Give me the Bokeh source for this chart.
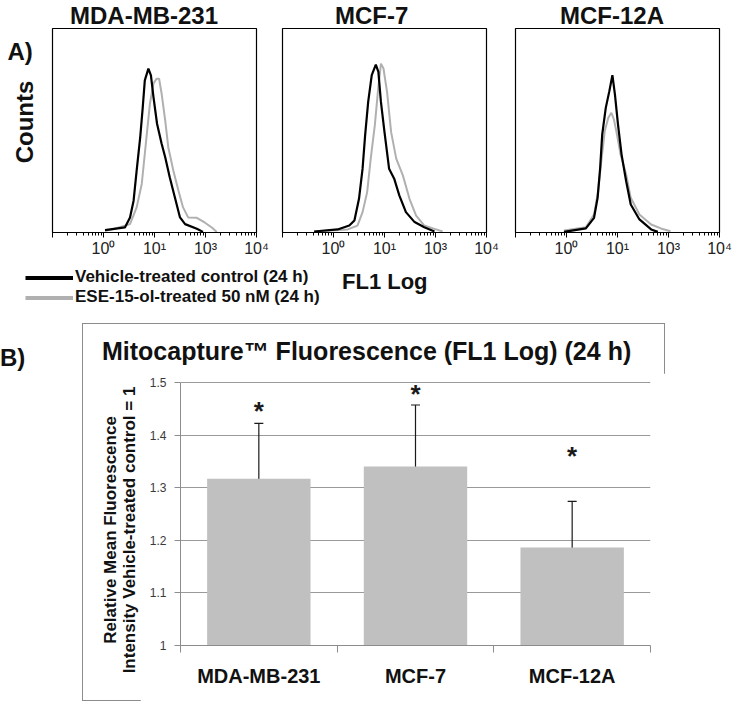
import math
from bokeh.plotting import figure
from bokeh.models import (Range1d, FixedTicker, Legend, LegendItem,
                          ColumnDataSource, Whisker, TeeHead, Div)
from bokeh.layouts import row, column
from bokeh.core.properties import value
from bokeh.embed import file_html
from bokeh.resources import INLINE

FONT = "Liberation Sans"
BLACK = "#000000"
GREY = "#b0b0b0"
TXT = "#111111"

# ---------------- data ----------------
panel_names = ["MDA-MB-231", "MCF-7", "MCF-12A"]
series_names = ["Vehicle-treated control (24 h)", "ESE-15-ol-treated 50 nM (24 h)"]
decade_ticks = [1, 2, 3, 4]
decade_tick_labels = ["10\u2070", "10\u00b9", "10\u00b3", "10\u2074"]

# histogram curves: position on FL1 log axis (decades) and counts (% of full scale)
mda_ctrl_fl1 = [1.03, 1.42, 1.52, 1.59, 1.65, 1.72, 1.77, 1.81, 1.88, 1.93, 1.98, 2.05, 2.14, 2.21, 2.30, 2.40, 2.50, 2.60, 2.83, 2.95]
mda_ctrl_cnt = [1.2, 2.5, 7.4, 15.6, 30.3, 46.7, 61.5, 74.6, 80.3, 77.0, 66.4, 53.3, 43.5, 36.9, 27.0, 17.2, 7.4, 4.1, 1.8, 0.3]
mda_trt_fl1 = [1.03, 1.20, 1.52, 1.65, 1.75, 1.83, 1.91, 1.98, 2.04, 2.09, 2.14, 2.21, 2.27, 2.37, 2.47, 2.56, 2.66, 2.83, 2.99, 3.13, 3.22]
mda_trt_cnt = [0.8, 1.7, 4.1, 12.3, 23.8, 43.5, 63.1, 73.0, 75.4, 75.4, 68.0, 54.9, 41.8, 30.3, 20.5, 12.3, 7.4, 7.2, 4.8, 2.3, 0.3]

mcf7_ctrl_fl1 = [0.62, 1.08, 1.31, 1.41, 1.50, 1.57, 1.62, 1.68, 1.75, 1.83, 1.88, 1.93, 2.00, 2.09, 2.19, 2.29, 2.42, 2.59, 2.78, 2.98]
mcf7_ctrl_cnt = [0.5, 1.5, 3.4, 5.9, 16.5, 31.3, 47.6, 64.0, 77.1, 82.3, 78.7, 64.0, 49.2, 31.3, 26.4, 18.2, 10.0, 5.1, 2.6, 0.5]
mcf7_trt_fl1 = [0.62, 1.28, 1.47, 1.57, 1.66, 1.73, 1.81, 1.87, 1.93, 1.98, 2.05, 2.13, 2.23, 2.36, 2.49, 2.62, 2.78, 2.98, 3.14]
mcf7_trt_cnt = [0.5, 1.5, 3.4, 10.0, 19.8, 36.2, 52.5, 68.9, 82.8, 80.4, 68.9, 49.2, 36.2, 28.0, 16.5, 8.3, 3.4, 1.8, 0.5]

mcf12a_ctrl_fl1 = [0.95, 1.38, 1.54, 1.61, 1.66, 1.70, 1.77, 1.84, 1.90, 1.95, 2.01, 2.08, 2.17, 2.26, 2.43, 2.66, 2.79]
mcf12a_ctrl_cnt = [0.3, 2.0, 7.2, 17.0, 31.7, 48.0, 61.1, 69.3, 77.1, 67.6, 52.9, 38.2, 25.1, 13.7, 6.4, 1.5, 0.3]
mcf12a_trt_fl1 = [0.95, 1.38, 1.54, 1.62, 1.69, 1.75, 1.82, 1.88, 1.93, 1.99, 2.06, 2.17, 2.26, 2.43, 2.66, 2.85, 3.04]
mcf12a_trt_cnt = [1.0, 2.6, 8.8, 20.3, 36.6, 49.7, 56.2, 58.7, 55.4, 48.0, 38.2, 28.4, 17.0, 8.8, 3.9, 2.0, 0.6]

# bar chart
categories = ["MDA-MB-231", "MCF-7", "MCF-12A"]
rel_mean = [1.317, 1.340, 1.186]
rel_err = [0.105, 0.117, 0.088]
star_level = [1.446, 1.478, 1.360]
y_ticks = [1.0, 1.1, 1.2, 1.3, 1.4, 1.5]
y_tick_labels = ["1", "1.1", "1.2", "1.3", "1.4", "1.5"]
bar_title = "Mitocapture\u2122 Fluorescence (FL1 Log) (24 h)"
bar_ylabel_lines = ["Relative Mean Fluorescence", "Intensity Vehicle-treated control = 1"]


def text_div(w, h, size, spans, line_height=None):
    """Div holding absolutely positioned bold text blocks: (left, top, html, extra_css)."""
    inner = "".join(
        f'<span style="position:absolute;left:{l}px;top:{t}px;white-space:nowrap;{css}">{txt}</span>'
        for l, t, txt, css in spans)
    html = f'<div style="position:relative;width:{w}px;height:{h}px;overflow:visible;">{inner}</div>'
    lh = line_height if line_height is not None else size
    return Div(text=html, width=w, height=h, margin=0,
               styles={"font-family": FONT, "font-weight": "bold", "font-size": f"{size}px",
                       "line-height": f"{lh}px", "color": TXT})


# ---------------- panel titles strip ----------------
title_lefts = [70, 335, 560]
title_div = text_div(738, 27, 24, [(xl, 4, n, "") for xl, n in zip(title_lefts, panel_names)])

# ---------------- left strip: "A)" and "Counts" ----------------
side_div = text_div(51, 235, 24, [
    (7.5, 12.7, "A)", ""),
    (25, 95, "Counts", "transform:translate(-50%,-50%) rotate(-90deg);"),
])

# ---------------- histogram panels ----------------
curves = [
    (mda_ctrl_fl1, mda_ctrl_cnt, mda_trt_fl1, mda_trt_cnt),
    (mcf7_ctrl_fl1, mcf7_ctrl_cnt, mcf7_trt_fl1, mcf7_trt_cnt),
    (mcf12a_ctrl_fl1, mcf12a_ctrl_cnt, mcf12a_trt_fl1, mcf12a_trt_cnt),
]
fig_widths = [225, 232, 230]
borders_lr = [(1, 20), (6, 22), (7, 19)]

minor = [d + math.log10(k) for d in range(4) for k in range(2, 10)]

hist_figs = []
for i, (cx, cy, tx, ty) in enumerate(curves):
    bl, br = borders_lr[i]
    p = figure(width=fig_widths[i], height=235, x_range=Range1d(0, 4), y_range=Range1d(0, 100),
               output_backend="svg", toolbar_location=None, title=None,
               min_border_left=bl, min_border_right=br, min_border_top=1, min_border_bottom=30,
               y_axis_location=None)
    p.grid.visible = False
    p.outline_line_color = BLACK
    p.outline_line_width = 1.2
    p.line(tx, ty, line_color=GREY, line_width=2)
    p.line(cx, cy, line_color=BLACK, line_width=2.2)

    xa = p.xaxis[0]
    xa.ticker = FixedTicker(ticks=[0] + decade_ticks, minor_ticks=minor)
    overrides = {0: ""}
    for t, lab in zip(decade_ticks, decade_tick_labels):
        overrides[t] = lab
    xa.major_label_overrides = overrides
    xa.axis_line_color = BLACK
    xa.major_tick_line_color = BLACK
    xa.minor_tick_line_color = BLACK
    xa.major_tick_out = 5
    xa.major_tick_in = 0
    xa.minor_tick_out = 3
    xa.minor_tick_in = 0
    xa.major_label_standoff = 2
    xa.major_label_text_font = FONT
    xa.major_label_text_font_size = "16px"
    xa.major_label_text_color = "#222222"
    hist_figs.append(p)

# ---------------- legend strip ----------------
leg = figure(width=330, height=61, x_range=Range1d(0, 1), y_range=Range1d(0, 1),
             output_backend="svg", toolbar_location=None, title=None,
             min_border_left=0, min_border_right=0, min_border_top=0, min_border_bottom=0,
             x_axis_location=None, y_axis_location=None)
leg.grid.visible = False
leg.outline_line_color = None
r_ctrl = leg.line(x=[0.5], y=[0.5], line_color=BLACK, line_width=4)
r_trt = leg.line(x=[0.5], y=[0.5], line_color=GREY, line_width=4)
legend = Legend(items=[LegendItem(label=series_names[0], renderers=[r_ctrl]),
                       LegendItem(label=series_names[1], renderers=[r_trt])],
                location=(25, 16), orientation="vertical",
                label_text_font=FONT, label_text_font_size="17px", label_text_font_style="bold",
                label_text_color=TXT, glyph_width=48, glyph_height=19, label_height=19,
                label_standoff=2, spacing=0, padding=0, margin=0,
                border_line_color=None, background_fill_alpha=0)
leg.add_layout(legend)
fl1_div = text_div(408, 61, 22, [(12, 9.4, "FL1 Log", "")])

# ---------------- bar chart ----------------
cat_x = [i + 0.5 for i in range(len(categories))]
bar_src = ColumnDataSource(dict(
    x=cat_x, mean=rel_mean,
    upper=[m + e for m, e in zip(rel_mean, rel_err)],
    lower=[m - e for m, e in zip(rel_mean, rel_err)],
    star=star_level, mark=["*"] * len(categories)))

pb = figure(width=525, height=328, x_range=Range1d(0, 3), y_range=Range1d(1, 1.515),
            output_backend="svg", toolbar_location=None, title=None,
            min_border_left=40, min_border_right=15, min_border_top=1, min_border_bottom=56)
pb.outline_line_color = None
pb.xgrid.visible = False
yt = FixedTicker(ticks=y_ticks)
pb.yaxis.ticker = yt
pb.ygrid.ticker = yt
pb.ygrid.grid_line_color = "#9a9a9a"
pb.ygrid.grid_line_width = 1

pb.vbar(x="x", top="mean", bottom=1, width=0.66, source=bar_src,
        fill_color="#c0c0c0", line_color=None)
pb.add_layout(Whisker(source=bar_src, base="x", upper="upper", lower="lower",
                      line_color="#1a1a1a", line_width=1.2,
                      upper_head=TeeHead(size=9, line_color="#1a1a1a", line_width=1.2),
                      lower_head=TeeHead(size=9, line_color="#1a1a1a", line_width=1.2)))
pb.text(x="x", y="star", text="mark", source=bar_src, text_align="center", text_baseline="middle",
        text_font=value(FONT), text_font_size="26px", text_font_style="bold", text_color="#1a1a1a")

ya = pb.yaxis[0]
ya.bounds = (y_ticks[0], y_ticks[-1])
ya.major_label_overrides = {t: lab for t, lab in zip(y_ticks, y_tick_labels)}
ya.axis_line_color = "#8c8c8c"
ya.major_tick_line_color = "#8c8c8c"
ya.major_tick_out = 6
ya.major_tick_in = 0
ya.minor_tick_out = 0
ya.minor_tick_in = 0
ya.major_label_standoff = 8
ya.major_label_text_font = FONT
ya.major_label_text_font_size = "12px"
ya.major_label_text_color = "#3a3a3a"

xa = pb.xaxis[0]
xa.ticker = FixedTicker(ticks=cat_x, minor_ticks=[0, 1, 2, 3])
xa.major_label_overrides = {x: c for x, c in zip(cat_x, categories)}
xa.axis_line_color = "#8c8c8c"
xa.major_tick_out = 0
xa.major_tick_in = 0
xa.minor_tick_line_color = "#8c8c8c"
xa.minor_tick_out = 7
xa.minor_tick_in = 0
xa.major_label_standoff = 12
xa.major_label_text_font = FONT
xa.major_label_text_font_size = "20px"
xa.major_label_text_font_style = "bold"
xa.major_label_text_color = TXT

bar_title_div = text_div(583, 50, 25, [(20, 15.8, bar_title, "")])
ylabel_div = text_div(58, 328, 17, [
    (38, 157, "<br>".join(bar_ylabel_lines),
     "display:block;text-align:center;transform:translate(-50%,-50%) rotate(-90deg);"),
], line_height=19)
bar_box = column(bar_title_div, row(ylabel_div, pb),
                 styles={"outline": "1px solid #8c8c8c", "outline-offset": "-1px"})

div_b = Div(text="B)", width=82, height=378, margin=0,
            styles={"font-family": FONT, "font-weight": "bold", "font-size": "24px",
                    "line-height": "24px", "padding-top": "23px", "color": TXT})

layout = column(title_div, row(side_div, *hist_figs), row(leg, fl1_div), row(div_b, bar_box))

with open("out.html", "w") as f:
    f.write(file_html(layout, INLINE))
